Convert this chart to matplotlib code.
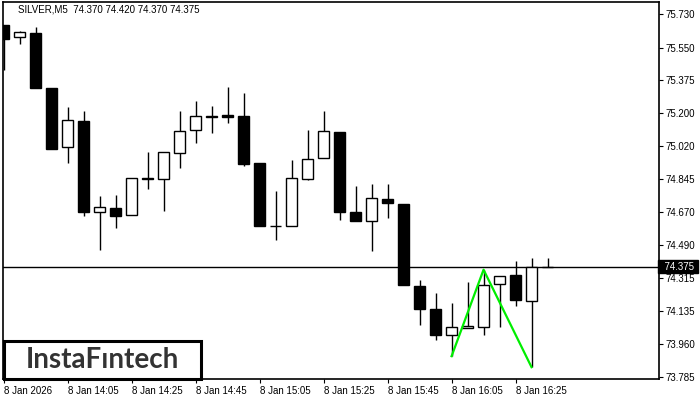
import matplotlib
matplotlib.use("Agg")
import matplotlib.pyplot as plt
from matplotlib.patches import Rectangle
import matplotlib.transforms as mtransforms

# OHLC data, SILVER M5, 8 Jan 2026
opens = [75.671, 75.605, 75.628, 75.334, 75.014, 75.157, 74.665, 74.689, 74.651, 74.850,
         74.844, 74.984, 75.107, 75.178, 75.189, 75.183, 74.933, 74.590, 74.590, 74.844,
         74.957, 75.096, 74.667, 74.619, 74.739, 74.712, 74.271, 74.149, 74.005, 74.046,
         74.051, 74.282, 74.330, 74.191, 74.370]
highs = [75.671, 75.639, 75.662, 75.334, 75.233, 75.212, 74.751, 74.760, 74.850, 74.987,
         74.991, 75.210, 75.264, 75.237, 75.340, 75.308, 74.933, 74.778, 74.948, 75.108,
         75.210, 75.097, 74.808, 74.819, 74.819, 74.712, 74.305, 74.235, 74.181, 74.294,
         74.358, 74.322, 74.407, 74.421, 74.420]
lows = [75.430, 75.569, 75.335, 75.008, 74.933, 74.648, 74.462, 74.580, 74.651, 74.791,
        74.671, 74.901, 75.037, 75.089, 75.144, 74.912, 74.590, 74.515, 74.590, 74.837,
        74.957, 74.626, 74.622, 74.456, 74.633, 74.274, 74.060, 73.980, 73.894, 74.046,
        74.006, 74.049, 74.162, 73.835, 74.370]
closes = [75.596, 75.632, 75.335, 75.008, 75.162, 74.665, 74.694, 74.644, 74.850, 74.845,
          74.991, 75.101, 75.183, 75.183, 75.177, 74.923, 74.590, 74.595, 74.850, 74.952,
          75.101, 74.665, 74.622, 74.743, 74.714, 74.274, 74.148, 74.006, 74.053, 74.058,
          74.276, 74.322, 74.196, 74.373, 74.375]

last_price = 74.375
title_text = "SILVER,M5  74.370 74.420 74.370 74.375"

# pattern points (candle index -> price)
pattern_idx = [28, 30, 33]
pattern_val = [lows[28], highs[30], lows[33]]

ytick_vals = [75.730, 75.550, 75.375, 75.200, 75.020, 74.845, 74.670,
              74.490, 74.315, 74.135, 73.960, 73.785]
xtick_pos = [0, 4, 8, 12, 16, 20, 24, 28, 32]
xtick_labels = ["8 Jan 2026", "8 Jan 14:05", "8 Jan 14:25", "8 Jan 14:45", "8 Jan 15:05",
                "8 Jan 15:25", "8 Jan 15:45", "8 Jan 16:05", "8 Jan 16:25"]

W, H = 700, 400
plt.rcParams['font.family'] = ['Liberation Sans', 'DejaVu Sans']
fig = plt.figure(figsize=(7, 4), dpi=100)
ax = fig.add_axes([3 / W, (H - 379.3) / H, (659 - 3) / W, (379.3 - 2.3) / H])

# candles
for i in range(len(opens)):
    o, h, l, c = opens[i], highs[i], lows[i], closes[i]
    ax.vlines(i, l, h, color="black", lw=1.0, zorder=2)
    bottom = min(o, c)
    height = max(abs(c - o), 0.0005)
    fc = "white" if c >= o else "black"
    ax.bar(i, height, bottom=bottom, width=0.68, color=fc, edgecolor="black",
           linewidth=1.0, zorder=3)

# current price line
ax.axhline(last_price, color="black", lw=1.0, zorder=1)

# pattern
ax.plot(pattern_idx, pattern_val, color="#00ee00", lw=1.6, zorder=4)

ax.set_xlim(-0.05, 40.97)
ax.set_ylim(73.770, 75.7927)

ax.yaxis.tick_right()
ax.set_yticks(ytick_vals)
ax.set_yticklabels([f"{v:.3f}" for v in ytick_vals])
ax.set_xticks(xtick_pos)
ax.set_xticklabels(xtick_labels)
ax.tick_params(axis="both", length=3, width=0.8, labelsize=7, pad=2, color="black")
plt.setp(ax.get_xticklabels(), ha="left")
for sp in ax.spines.values():
    sp.set_linewidth(1.2)

# last price tag
trans = mtransforms.blended_transform_factory(ax.transAxes, ax.transData)
ax.text(1.0, last_price, "  74.375 ", transform=trans, ha="left", va="center",
        fontsize=7, color="white", zorder=5, clip_on=False,
        bbox=dict(boxstyle="square,pad=0.15", fc="black", ec="black"))

# header
fig.text(18 / W, 1 - 10 / H, title_text, fontsize=7, ha="left", va="center")

# logo
fig.patches.append(Rectangle((3.5 / W, (H - 379) / H), 197 / W, 38 / H,
                             transform=fig.transFigure, fc="white", ec="black",
                             lw=2.2, zorder=10))
fig.text(102 / W, (H - 360) / H, "InstaFıntech", fontsize=20, color="#333333",
         family=["Lato", "DejaVu Sans"], fontweight="bold",
         ha="center", va="center", zorder=11)

fig.savefig("out.png", dpi=100)
